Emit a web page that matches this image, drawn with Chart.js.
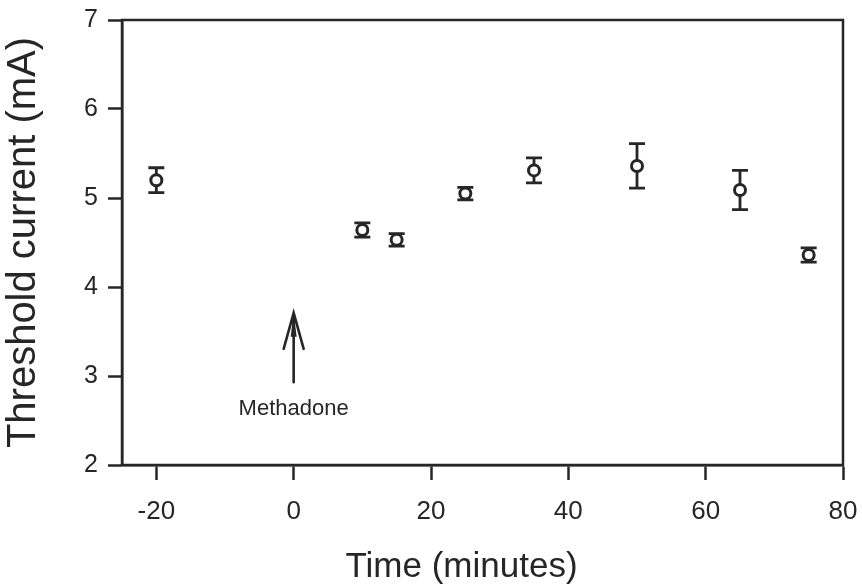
<!DOCTYPE html>
<html>
<head>
<meta charset="utf-8">
<script src="https://cdn.jsdelivr.net/npm/chart.js@4/dist/chart.umd.min.js"></script>
<style>
  body { margin: 0; background: #fff; }
</style>
</head>
<body>
<canvas id="chart" width="862" height="585"></canvas>
<script>
// data
const times = [-20, 10, 15, 25, 35, 50, 65, 75];
const threshold = [5.20, 4.64, 4.53, 5.05, 5.31, 5.36, 5.09, 4.36];
const sem = [0.14, 0.08, 0.07, 0.07, 0.14, 0.25, 0.22, 0.08];
const xTicks = [-20, 0, 20, 40, 60, 80];
const arrowTime = 0;
const arrowFrom = 2.93;
const arrowTo = 3.71;
const arrowLabel = 'Methadone';
const xTitle = 'Time (minutes)';

const ink = '#262626';
const font = 'Liberation Sans, Arial, Helvetica, sans-serif';

const frame = {
  id: 'frame',
  afterDraw(chart) {
    const { ctx, chartArea: { top, bottom, left, right } } = chart;
    ctx.save();
    ctx.strokeStyle = ink;
    ctx.lineWidth = 2.5;
    ctx.strokeRect(left, top, right - left, bottom - top);
    // x axis title, sits a little left of centre in the original
    ctx.fillStyle = ink;
    ctx.font = '35px ' + font;
    ctx.textAlign = 'center';
    ctx.textBaseline = 'alphabetic';
    ctx.fillText(xTitle, (left + right) / 2 - 21, 577);
    ctx.restore();
  }
};

const errorBars = {
  id: 'errorBars',
  beforeDatasetsDraw(chart) {
    const { ctx, scales: { x, y } } = chart;
    ctx.save();
    ctx.strokeStyle = ink;
    ctx.lineWidth = 2.8;
    times.forEach((t, i) => {
      const px = x.getPixelForValue(t);
      const hi = y.getPixelForValue(threshold[i] + sem[i]);
      const lo = y.getPixelForValue(threshold[i] - sem[i]);
      ctx.beginPath();
      ctx.moveTo(px, hi); ctx.lineTo(px, lo);
      ctx.moveTo(px - 8, hi); ctx.lineTo(px + 8, hi);
      ctx.moveTo(px - 8, lo); ctx.lineTo(px + 8, lo);
      ctx.stroke();
    });
    ctx.restore();
  }
};

const arrow = {
  id: 'arrow',
  afterDatasetsDraw(chart) {
    const { ctx, scales: { x, y } } = chart;
    const px = x.getPixelForValue(arrowTime);
    const y0 = y.getPixelForValue(arrowFrom);
    const y1 = y.getPixelForValue(arrowTo);
    ctx.save();
    ctx.strokeStyle = ink;
    ctx.fillStyle = ink;
    ctx.lineWidth = 2.6;
    ctx.lineCap = 'round';
    ctx.beginPath();
    ctx.moveTo(px, y0); ctx.lineTo(px, y1);
    ctx.moveTo(px - 10, y1 + 36); ctx.lineTo(px, y1);
    ctx.lineTo(px + 10, y1 + 36);
    ctx.stroke();
    ctx.beginPath();
    ctx.moveTo(px, y1); ctx.lineTo(px - 3, y1 + 24); ctx.lineTo(px + 3, y1 + 24);
    ctx.closePath(); ctx.fill();
    ctx.font = '22px ' + font;
    ctx.textAlign = 'center';
    ctx.textBaseline = 'middle';
    ctx.fillText(arrowLabel, px, y0 + 27);
    ctx.restore();
  }
};

new Chart(document.getElementById('chart'), {
  type: 'scatter',
  data: {
    datasets: [{
      data: times.map((t, i) => ({ x: t, y: threshold[i] })),
      pointRadius: 5.5,
      pointBorderWidth: 3,
      pointBackgroundColor: '#fff',
      pointBorderColor: ink,
      showLine: false
    }]
  },
  options: {
    responsive: false,
    animation: false,
    layout: { padding: { top: 20, right: 19, left: 0, bottom: 4 } },
    plugins: { legend: { display: false }, tooltip: { enabled: false } },
    scales: {
      x: {
        type: 'linear',
        min: -25,
        max: 80,
        afterBuildTicks: s => { s.ticks = xTicks.map(v => ({ value: v })); },
        afterFit: s => { s.height = 116; s.paddingLeft = 0; s.paddingRight = 0; },
        grid: { drawOnChartArea: false, tickLength: 15, tickColor: ink, tickWidth: 2.5 },
        border: { color: ink, width: 2.5 },
        ticks: { color: ink, font: { family: font, size: 26 }, padding: 16, maxRotation: 0 },
        title: { display: false }
      },
      y: {
        min: 2,
        max: 7,
        afterFit: s => { s.width = 122; s.paddingTop = 0; s.paddingBottom = 0; },
        grid: { drawOnChartArea: false, tickLength: 14, tickColor: ink, tickWidth: 2.5 },
        border: { color: ink, width: 2.5 },
        ticks: { stepSize: 1, color: ink, font: { family: font, size: 25 }, padding: 10 },
        title: { display: true, text: 'Threshold current (mA)', color: ink, font: { family: font, size: 40 }, padding: 0 }
      }
    }
  },
  plugins: [errorBars, arrow, frame]
});
</script>
</body>
</html>
